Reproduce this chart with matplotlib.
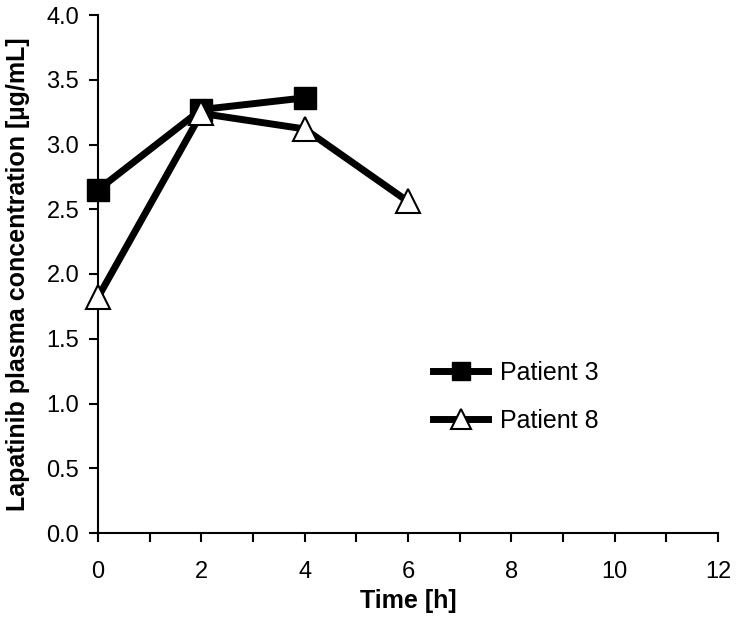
import matplotlib
matplotlib.use("Agg")
import matplotlib.pyplot as plt
from matplotlib.ticker import MultipleLocator, FormatStrFormatter

plt.rcParams['font.family'] = ['Liberation Sans', 'DejaVu Sans']

time_p3 = [0, 2, 4]
conc_p3 = [2.65, 3.27, 3.36]
time_p8 = [0, 2, 4, 6]
conc_p8 = [1.82, 3.24, 3.12, 2.56]

xlabel = "Time [h]"
ylabel = "Lapatinib plasma concentration [µg/mL]"

fig = plt.figure(figsize=(7.4, 6.2), dpi=100)
ax = fig.add_axes([98/740, 87/620, 620/740, 518/620])

ax.plot(time_p3, conc_p3, color='black', lw=5, marker='s', ms=16,
        mfc='black', mec='black', label='Patient 3', clip_on=False, zorder=3)
ax.plot(time_p8, conc_p8, color='black', lw=5, marker='^', ms=17,
        mfc='white', mec='black', mew=1.5, label='Patient 8', clip_on=False, zorder=4)

ax.set_xlim(0, 12)
ax.set_ylim(0, 4.0)
ax.xaxis.set_major_locator(MultipleLocator(2))
ax.xaxis.set_minor_locator(MultipleLocator(1))
ax.yaxis.set_major_locator(MultipleLocator(0.5))
ax.yaxis.set_major_formatter(FormatStrFormatter('%.1f'))

for s in ['top', 'right']:
    ax.spines[s].set_visible(False)
for s in ['left', 'bottom']:
    ax.spines[s].set_linewidth(1.5)

ax.tick_params(axis='both', which='both', direction='out', length=6.5, width=1.5,
               labelsize=17)
ax.tick_params(axis='y', which='major', pad=7)
ax.tick_params(axis='x', which='major', pad=14)

ax.set_xlabel(xlabel, fontsize=18, fontweight='bold', labelpad=4)
ax.set_ylabel(ylabel, fontsize=18, fontweight='bold', labelpad=12)

ax.legend(loc='upper left', bbox_to_anchor=(433/740, (620-361)/620),
          bbox_transform=fig.transFigure, frameon=False, markerscale=0.82,
          fontsize=18, handlelength=2.2, handletextpad=0.5, labelspacing=0.95,
          borderaxespad=0, borderpad=0)

fig.savefig('out.png', dpi=100)
